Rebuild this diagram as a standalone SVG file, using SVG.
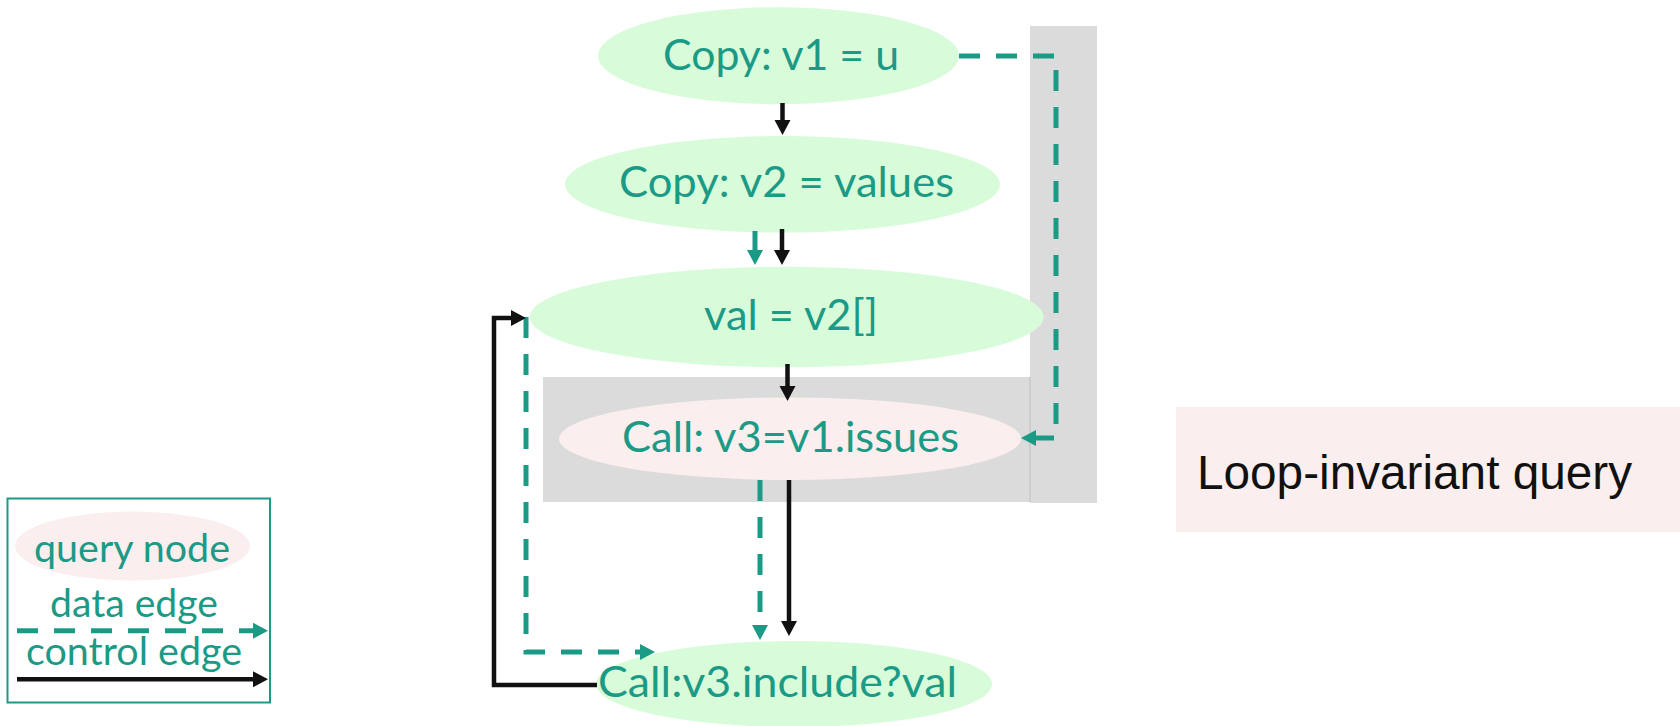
<svg xmlns="http://www.w3.org/2000/svg" width="1680" height="726" viewBox="0 0 1680 726">
  <style>
    .bg { fill: #ffffff; }
    .region { fill: #dbdbdb; }
    .plain { fill: #d8fcda; }
    .query { fill: #fbeeee; }
    .lbl { font-family: Lato, "Open Sans", "Noto Sans", sans-serif; font-size: 43px; fill: #1b9a86; }
    .leg { font-family: Lato, "Open Sans", "Noto Sans", sans-serif; font-size: 38px; fill: #1b9a86; }
    .note { font-family: "Liberation Sans", Arial, sans-serif; font-size: 48px; fill: #111111; }
    .data { fill: none; stroke: #1b9a86; stroke-width: 5; stroke-dasharray: 21 16; marker-end: url(#headData); }
    .ctrl { fill: none; stroke: #111111; stroke-width: 4.5; marker-end: url(#headCtrl); }
  </style>
  <defs>
    <marker id="headData" markerUnits="userSpaceOnUse" markerWidth="16" markerHeight="16" refX="0" refY="8" orient="auto" overflow="visible">
      <path d="M0,0 L15,8 L0,16 Z" fill="#1b9a86"/>
    </marker>
    <marker id="headCtrl" markerUnits="userSpaceOnUse" markerWidth="16" markerHeight="16" refX="0" refY="8" orient="auto" overflow="visible">
      <path d="M0,0 L15,8 L0,16 Z" fill="#111111"/>
    </marker>
  </defs>

  <rect class="bg" x="0" y="0" width="1680" height="726"/>

  <!-- shaded loop regions -->
  <g id="loop-region">
    <rect class="region" x="543" y="377" width="487" height="125"/>
    <rect class="region" x="1030" y="26" width="67" height="477"/>
    <line x1="1030" y1="377" x2="1030" y2="502" stroke="#cdcdcd" stroke-width="2"/>
  </g>

  <!-- nodes -->
  <g id="n-copy-v1">
    <ellipse class="plain" cx="778.5" cy="55.7" rx="180.5" ry="48.5"/>
    <text class="lbl" x="663" y="70" textLength="236" lengthAdjust="spacingAndGlyphs">Copy: v1 = u</text>
  </g>
  <g id="n-copy-v2">
    <ellipse class="plain" cx="782.5" cy="184.3" rx="217.5" ry="48.3"/>
    <text class="lbl" x="619" y="197" textLength="335" lengthAdjust="spacingAndGlyphs">Copy: v2 = values</text>
  </g>
  <g id="n-val">
    <ellipse class="plain" cx="786.7" cy="317" rx="257" ry="50.3"/>
    <text class="lbl" x="704" y="330" textLength="174" lengthAdjust="spacingAndGlyphs">val = v2[]</text>
  </g>
  <g id="n-call-issues">
    <ellipse class="query" cx="790" cy="438.7" rx="231" ry="41.3"/>
    <text class="lbl" x="622" y="452" textLength="337" lengthAdjust="spacingAndGlyphs">Call: v3=v1.issues</text>
  </g>
  <g id="n-call-include">
    <ellipse class="plain" cx="794" cy="684" rx="198" ry="43"/>
    <text class="lbl" x="598" y="697" textLength="359" lengthAdjust="spacingAndGlyphs">Call:v3.include?val</text>
  </g>

  <!-- connectors -->
  <g id="edges">
    <path class="ctrl" d="M782.5,103 V120"/>
    <path class="ctrl" d="M782,229 V250"/>
    <path class="data" d="M755,231 V250"/>
    <path class="ctrl" d="M787.5,364 V386"/>
    <path class="data" d="M959,56 H1056 V438 H1036"/>
    <path class="data" d="M526,317 V652 H640"/>
    <path class="data" d="M760,480 V625"/>
    <path class="ctrl" d="M789,480 V621"/>
    <path class="ctrl" d="M597,685 H494 V318 H511"/>
  </g>

  <!-- note -->
  <g id="note">
    <rect class="query" x="1176" y="407" width="504" height="125"/>
    <text class="note" x="1197" y="489" textLength="435" lengthAdjust="spacingAndGlyphs">Loop-invariant query</text>
  </g>

  <!-- legend -->
  <g id="legend">
    <rect x="7.5" y="498.5" width="262.5" height="204" fill="#ffffff" stroke="#1b9a86" stroke-width="2"/>
    <ellipse class="query" cx="132.5" cy="546" rx="117.5" ry="34.5"/>
    <text class="leg" x="34" y="562" textLength="196" lengthAdjust="spacingAndGlyphs">query node</text>
    <text class="leg" x="50" y="617" textLength="168" lengthAdjust="spacingAndGlyphs">data edge</text>
    <path class="data" d="M17,630.7 H253"/>
    <text class="leg" x="26" y="665" textLength="216" lengthAdjust="spacingAndGlyphs">control edge</text>
    <path class="ctrl" d="M17,679.3 H253"/>
  </g>
</svg>
